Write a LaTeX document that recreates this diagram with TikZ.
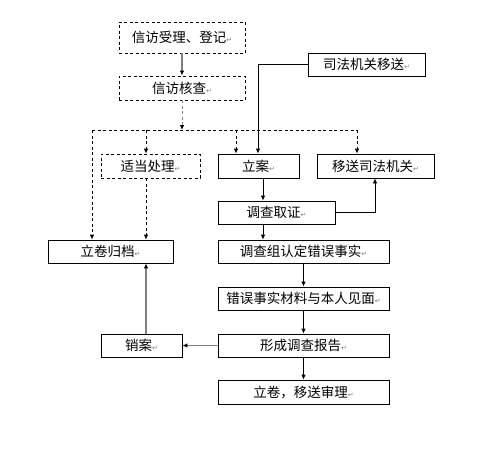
\documentclass[tikz,border=0pt]{standalone}
\usepackage{fontspec}
\newfontfamily\cjk{Noto Sans CJK SC}
\newfontfamily\symfont{DejaVu Sans}
\usetikzlibrary{arrows.meta}
\newcommand{\ret}{{\symfont\fontsize{7}{7}\selectfont\color{gray}↵}}
\tikzset{
    box/.style={shape=rectangle,draw=black,line width=0.8pt,inner sep=0pt,font=\cjk\fontsize{13.5}{14}\selectfont},
    dbox/.style={box,dashed,dash pattern=on 3pt off 2.5pt},
    link/.style={line width=0.8pt,-{Latex[length=5pt,width=4.5pt,color=black]}},
    dlink/.style={link,dash pattern=on 3pt off 2.5pt},
    glink/.style={link,draw=gray,line width=1.6pt}
}

\begin{document}
\begin{tikzpicture}[x=1pt,y=-1pt]
    \useasboundingbox (0,0) rectangle (486,464);

    \node[dbox,minimum width=126pt,minimum height=31pt] (B1) at (182,37.5) {信访受理、登记\ret};
    \node[dbox,minimum width=126pt,minimum height=24pt] (B2) at (182,88) {信访核查\ret};
    \node[box,minimum width=117pt,minimum height=23pt] (SF) at (366.5,64.5) {司法机关移送\ret};
    \node[dbox,minimum width=99pt,minimum height=24pt] (CL) at (150.5,166) {适当处理\ret};
    \node[box,minimum width=81pt,minimum height=24pt] (LA) at (258.5,166) {立案\ret};
    \node[box,minimum width=117pt,minimum height=24pt] (YS) at (375.5,166) {移送司法机关\ret};
    \node[box,minimum width=117pt,minimum height=23pt] (DC) at (276.5,212.5) {调查取证\ret};
    \node[box,minimum width=125pt,minimum height=23pt] (GD) at (110.5,251.5) {立卷归档\ret};
    \node[box,minimum width=171pt,minimum height=23pt] (RD) at (303.5,251.5) {调查组认定错误事实\ret};
    \node[box,minimum width=171pt,minimum height=23pt] (JM) at (303.5,298.5) {错误事实材料与本人见面\ret};
    \node[box,minimum width=171pt,minimum height=23pt] (BG) at (303.5,345.5) {形成调查报告\ret};
    \node[box,minimum width=81pt,minimum height=23pt] (XA) at (141.5,345.5) {销案\ret};
    \node[box,minimum width=171pt,minimum height=24pt] (SL) at (303.5,392) {立卷，移送审理\ret};

    \coordinate (M) at (182,130);
    \coordinate (ML) at (92,130);
    \coordinate (MR) at (357,130);
    \coordinate (K) at (236,130);
    \coordinate (CX) at (146,130);
    \coordinate (SX) at (258,64.5);
    \coordinate (DX) at (375,212.5);

    \draw[glink] (B1) -- (B2);
    \draw[dlink,draw=gray] (B2) -- (M);
    \draw[dash pattern=on 3pt off 2.5pt,line width=0.8pt] (ML) -- (MR);
    \draw[dlink] (ML) -- (ML |- GD.north);
    \draw[dlink] (CX) -- (CX |- CL.north);
    \draw[dlink] (K) -- (K |- LA.north);
    \draw[dlink] (MR) -- (MR |- YS.north);
    \draw[dlink] (CX |- CL.south) -- (CX |- GD.north);
    \draw[link] (SF.west) -- (SX) -- (SX |- LA.north);
    \draw[link] (LA.south -| 263,0) -- (263,0 |- DC.north);
    \draw[link] (DC.east) -- (DX) -- (DX |- YS.south);
    \draw[link] (DC.south -| 263,0) -- (263,0 |- RD.north);
    \draw[link] (RD) -- (JM);
    \draw[link] (JM) -- (BG);
    \draw[link] (BG) -- (SL);
    \draw[glink] (BG) -- (XA);
    \draw[glink] (CX |- XA.north) -- (CX |- GD.south);
\end{tikzpicture}
\end{document}
